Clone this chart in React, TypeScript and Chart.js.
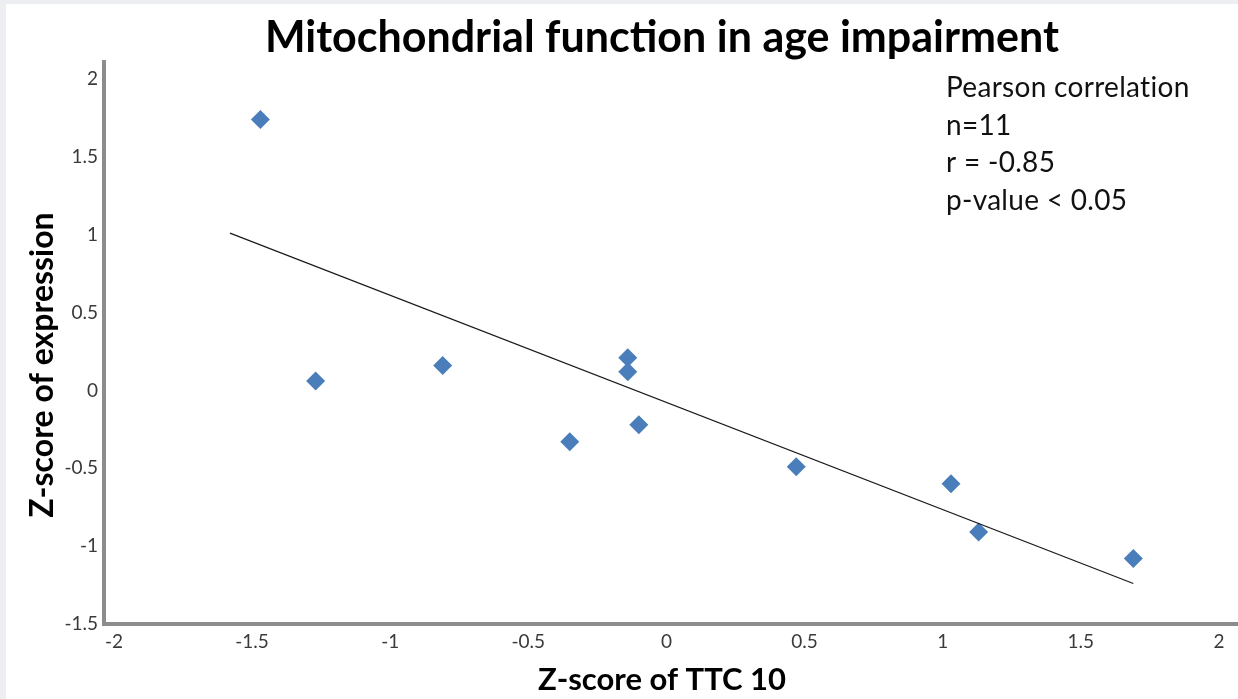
import React, { useEffect, useRef } from "react";
import { Chart, registerables } from "chart.js";

Chart.register(...registerables);

const TITLE = "Mitochondrial function in age impairment";
const X_TITLE = "Z-score of TTC 10";
const Y_TITLE = "Z-score of expression";
const STATS_LINES = ["Pearson correlation", "n=11", "r = -0.85", "p-value < 0.05"];

const xValues = [-1.47, -1.27, -0.81, -0.35, -0.14, -0.14, -0.1, 0.47, 1.03, 1.13, 1.69];
const yValues = [1.74, 0.06, 0.16, -0.33, 0.21, 0.12, -0.22, -0.49, -0.6, -0.91, -1.08];
const trendX = [-1.58, 1.69];
const trendY = [1.01, -1.24];
const xTicks = [-2, -1.5, -1, -0.5, 0, 0.5, 1, 1.5, 2];
const yTicks = [-1.5, -1, -0.5, 0, 0.5, 1, 1.5, 2];

const FONT = "Lato, 'Open Sans', sans-serif";
const TICK_COLOR = "#3a3a3a";
const AXIS_COLOR = "#8c8c8c";
const POINT_COLOR = "#4a7ebb";

const textPlugin = {
  id: "textOverlay",
  afterDraw(chart: any) {
    const { ctx } = chart;
    ctx.save();
    ctx.fillStyle = "#000";
    ctx.textBaseline = "alphabetic";

    // chart title
    ctx.textAlign = "center";
    ctx.font = `bold 43px ${FONT}`;
    ctx.fillText(TITLE, 656, 48);

    // x axis title
    ctx.font = `bold 31px ${FONT}`;
    ctx.fillText(X_TITLE, 656, 686);

    // y axis title
    ctx.save();
    ctx.translate(47, 361);
    ctx.rotate(-Math.PI / 2);
    ctx.font = `bold 32px ${FONT}`;
    ctx.fillText(Y_TITLE, 0, 0);
    ctx.restore();

    // stats text
    ctx.textAlign = "left";
    ctx.font = `28px ${FONT}`;
    ctx.fillStyle = "#111";
    try {
      (ctx as any).letterSpacing = "0.3px";
    } catch (e) {}
    const baselines = [93, 131, 168, 206];
    STATS_LINES.forEach((line, i) => {
      ctx.fillText(line, 940, baselines[i]);
    });
    ctx.restore();
  },
};

export default function App() {
  const canvasRef = useRef<HTMLCanvasElement>(null);

  useEffect(() => {
    document.body.style.margin = "0";
    document.body.style.background = "#edeef2";
    const canvas = canvasRef.current;
    if (!canvas) return;

    const chart = new Chart(canvas, {
      type: "scatter",
      data: {
        datasets: [
          {
            type: "line",
            label: "Trend",
            data: trendX.map((x, i) => ({ x, y: trendY[i] })),
            borderColor: "#1a1a1a",
            borderWidth: 1.2,
            pointRadius: 0,
            fill: false,
            order: 0,
          } as any,
          {
            label: "Z-score",
            data: xValues.map((x, i) => ({ x, y: yValues[i] })),
            pointStyle: "rectRot",
            pointRadius: 9.5,
            pointHoverRadius: 9.5,
            backgroundColor: POINT_COLOR,
            borderColor: POINT_COLOR,
            borderWidth: 0,
            order: 1,
          },
        ],
      },
      options: {
        responsive: false,
        animation: false,
        devicePixelRatio: 1,
        layout: { autoPadding: false, padding: { top: 58, left: 0, right: 0, bottom: 0 } },
        plugins: {
          legend: { display: false },
          tooltip: { enabled: false },
          title: { display: false },
        },
        scales: {
          x: {
            type: "linear",
            min: -2.036,
            max: 2.069,
            afterBuildTicks: (s: any) => {
              s.ticks = xTicks.map((v) => ({ value: v }));
            },
            afterFit: (s: any) => {
              s.height = 75;
            },
            grid: { display: false, drawTicks: false },
            border: { display: true, color: AXIS_COLOR, width: 4 },
            ticks: {
              font: { family: FONT, size: 19 },
              color: TICK_COLOR,
              padding: 6,
              maxRotation: 0,
              autoSkip: false,
              callback: (v: any) => String(v),
            },
          },
          y: {
            type: "linear",
            min: -1.5,
            max: 2.109,
            afterBuildTicks: (s: any) => {
              s.ticks = yTicks.map((v) => ({ value: v }));
            },
            afterFit: (s: any) => {
              s.width = 98;
            },
            grid: { display: false, drawTicks: false },
            border: { display: true, color: AXIS_COLOR, width: 4 },
            ticks: {
              font: { family: FONT, size: 19 },
              color: TICK_COLOR,
              padding: 6,
              autoSkip: false,
              callback: (v: any) => String(v),
            },
          },
        },
      },
      plugins: [textPlugin],
    });

    return () => chart.destroy();
  }, []);

  return (
    <div style={{ paddingLeft: 6, paddingTop: 4, background: "#edeef2" }}>
      <canvas
        ref={canvasRef}
        width={1232}
        height={695}
        style={{ display: "block", background: "#ffffff" }}
      />
    </div>
  );
}
